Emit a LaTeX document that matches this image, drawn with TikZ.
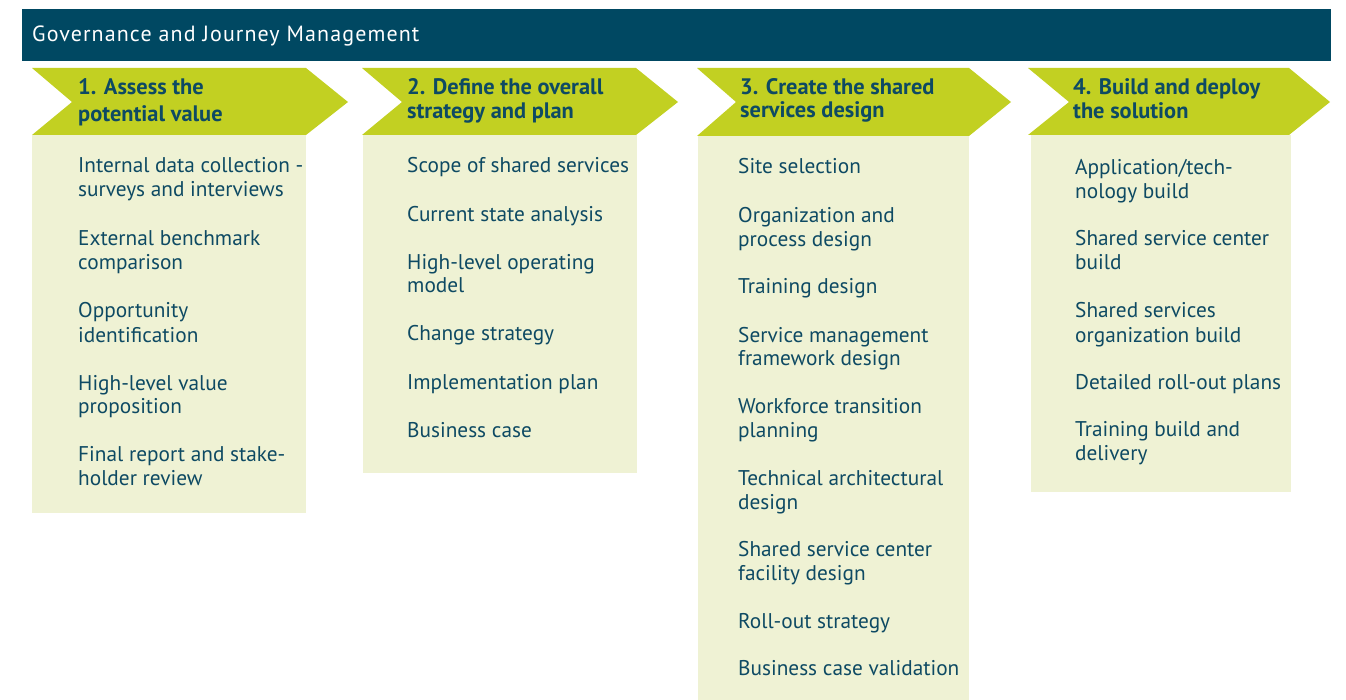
\documentclass[tikz,border=0pt]{standalone}
\usepackage{fontspec}
\setmainfont{PT Sans}
\newfontfamily\hdrfont[LetterSpace=5.0]{PT Sans}
\definecolor{hdr}{HTML}{004862}
\definecolor{chev}{HTML}{C2D022}
\definecolor{boxc}{HTML}{EFF2D4}
\definecolor{txt}{HTML}{0E4A63}
\tikzset{
  item/.style={anchor=base west, inner sep=0pt, text=txt, font=\fontsize{21.3}{24}\selectfont},
  ttl/.style={anchor=base west, inner sep=0pt, text=txt, font=\fontsize{22.4}{26}\selectfont\bfseries},
  chevshape/.style={fill=chev, draw=none},
  colbox/.style={fill=boxc, draw=none}
}
\begin{document}
\begin{tikzpicture}[x=1pt,y=-1pt]
\useasboundingbox (0,0) rectangle (1346,700);
% header
\fill[hdr] (22,9) rectangle (1331,61);
\node[anchor=base west, inner sep=0pt, text=white, font=\hdrfont\fontsize{22}{26}\selectfont] (hd) at (32,42) {Governance and Journey Management};
% boxes
\fill[colbox] (32,135) rectangle (306,513);
\fill[colbox] (363,135) rectangle (637,473);
\fill[colbox] (698,135) rectangle (969,700);
\fill[colbox] (1031,135) rectangle (1291,492);
% chevrons
\fill[chevshape] (32,68) -- (306,68) -- (348,102) -- (306,135) -- (32,135) -- (72,102) -- cycle;
\fill[chevshape] (362,68) -- (636,68) -- (678,102) -- (636,135) -- (362,135) -- (402,102) -- cycle;
\fill[chevshape] (697,68) -- (969,68) -- (1011,102) -- (969,136) -- (697,136) -- (736,102) -- cycle;
\fill[chevshape] (1028,68) -- (1289,68) -- (1330,102) -- (1289,135) -- (1028,135) -- (1069,102) -- cycle;
% titles
\node[ttl] (t1a) at (78,95) {1. Assess the};
\node[ttl] (t1b) at (78,122) {potential value};
\node[ttl] (t2a) at (407,95) {2. Define the overall};
\node[ttl] (t2b) at (407,119) {strategy and plan};
\node[ttl] (t3a) at (740,95) {3. Create the shared};
\node[ttl] (t3b) at (740,118) {services design};
\node[ttl] (t4a) at (1073,95) {4. Build and deploy};
\node[ttl] (t4b) at (1073,119) {the solution};
% column 1
\foreach \y/\t [count=\i] in {173/{Internal data collection -}, 197/{surveys and interviews}, 246/{External benchmark}, 270/{comparison}, 318/{Opportunity}, 342/{identification}, 390/{High-level value}, 413/{proposition}, 461/{Final report and stake-}, 485/{holder review}}
  \node[item] (a\i) at (78,\y) {\t};
% column 2
\foreach \y/\t [count=\i] in {173/{Scope of shared services}, 222/{Current state analysis}, 270/{High-level operating}, 293/{model}, 341/{Change strategy}, 389/{Implementation plan}, 437/{Business case}}
  \node[item] (b\i) at (407,\y) {\t};
% column 3
\foreach \y/\t [count=\i] in {174/{Site selection}, 223/{Organization and}, 247/{process design}, 294/{Training design}, 342/{Service management}, 366/{framework design}, 413/{Workforce transition}, 437/{planning}, 485/{Technical architectural}, 509/{design}, 556/{Shared service center}, 580/{facility design}, 628/{Roll-out strategy}, 675/{Business case validation}}
  \node[item] (c\i) at (738,\y) {\t};
% column 4
\foreach \y/\t [count=\i] in {175/{Application/tech-}, 199/{nology build}, 246/{Shared service center}, 270/{build}, 318/{Shared services}, 342/{organization build}, 389/{Detailed roll-out plans}, 436/{Training build and}, 460/{delivery}}
  \node[item] (d\i) at (1075,\y) {\t};
\end{tikzpicture}
\end{document}
